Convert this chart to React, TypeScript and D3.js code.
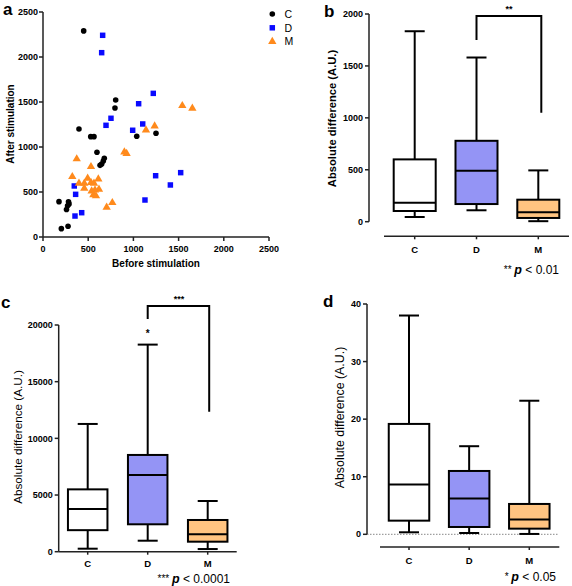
import React from 'react';
import * as d3 from 'd3';

const FONT = '"Liberation Sans", Arial, Helvetica, sans-serif';

// ---------- Panel a: scatter ----------
const groupNames = ['C', 'D', 'M'];
const groupColors = ['#000000', '#0a0aff', '#ff8a1c'];
const cPoints: [number, number][] = [
  [450, 2290], [804, 1522], [796, 1433], [398, 1200], [528, 1115], [564, 1115], [1037, 1119],
  [1250, 1152], [597, 941], [678, 874], [667, 844], [649, 811], [631, 796], [177, 393],
  [282, 392], [288, 368], [272, 348], [260, 306], [203, 93], [277, 119],
];
const dPoints: [number, number][] = [
  [660, 2241], [649, 2048], [1058, 1481], [752, 1319], [697, 1241], [1103, 1256], [992, 1186],
  [1220, 1596], [1246, 681], [1523, 715], [1409, 578], [1128, 411], [346, 567], [361, 474],
  [428, 270], [354, 233],
];
const mPoints: [number, number][] = [
  [1139, 1189], [1541, 1459], [1652, 1430], [1235, 1233], [900, 944], [925, 926], [373, 867],
  [531, 781], [324, 670], [494, 652], [612, 644], [398, 596], [457, 596], [531, 604], [564, 596],
  [457, 541], [619, 530], [538, 511], [575, 522], [557, 467], [586, 456], [767, 381], [704, 330],
];
const scatterTicks = [0, 500, 1000, 1500, 2000, 2500];

// ---------- Box panels ----------
const categories = ['C', 'D', 'M'];
const boxFills = ['#ffffff', '#9494f5', '#ffc481'];

const bMin = [45, 110, 5];
const bQ1 = [103, 170, 36];
const bMed = [183, 490, 90];
const bQ3 = [600, 779, 212];
const bMax = [1834, 1581, 494];
const bTicks = [0, 500, 1000, 1500, 2000];

const cMin = [265, 970, 235];
const cQ1 = [1900, 2418, 883];
const cMed = [3770, 6770, 1535];
const cQ3 = [5500, 8535, 2798];
const cMax = [11270, 18270, 4475];
const cTicks = [0, 5000, 10000, 15000, 20000];

const dMin = [0.35, 0.23, 0.06];
const dQ1 = [2.37, 1.27, 0.98];
const dMed = [8.63, 6.2, 2.55];
const dQ3 = [19.17, 11.0, 5.27];
const dMax = [38, 15.3, 23.2];
const dTicks = [0, 10, 20, 30, 40];

const AXIS = '#222';

function Boxes({ x, y, mins, q1s, meds, q3s, maxs, w }: any) {
  return (
    <g>
      {categories.map((c, i) => {
        const cx = x(c);
        return (
          <g key={c} stroke="#000" strokeWidth={2} fill="none">
            <line x1={cx} x2={cx} y1={y(maxs[i])} y2={y(q3s[i])} />
            <line x1={cx} x2={cx} y1={y(q1s[i])} y2={y(mins[i])} />
            <line x1={cx - 10} x2={cx + 10} y1={y(maxs[i])} y2={y(maxs[i])} />
            <line x1={cx - 10} x2={cx + 10} y1={y(mins[i])} y2={y(mins[i])} />
            <rect x={cx - w / 2} y={y(q3s[i])} width={w} height={y(q1s[i]) - y(q3s[i])} fill={boxFills[i]} />
            <line x1={cx - w / 2} x2={cx + w / 2} y1={y(meds[i])} y2={y(meds[i])} />
          </g>
        );
      })}
    </g>
  );
}

function YAxis({ x0, y, ticks, fmt }: any) {
  const [d0, d1] = y.domain();
  return (
    <g>
      <line x1={x0} x2={x0} y1={y(d0)} y2={y(d1)} stroke={AXIS} strokeWidth={1.5} />
      {ticks.map((t: number) => (
        <g key={t}>
          <line x1={x0 - 4} x2={x0} y1={y(t)} y2={y(t)} stroke={AXIS} strokeWidth={1.5} />
          <text x={x0 - 6} y={y(t)} dy="0.35em" textAnchor="end" fontSize={9} fontWeight="bold" fontFamily={FONT}>
            {fmt ? fmt(t) : t}
          </text>
        </g>
      ))}
    </g>
  );
}

function XCatAxis({ x, yLine, x1, x2, labelY }: any) {
  return (
    <g>
      <line x1={x1} x2={x2} y1={yLine} y2={yLine} stroke={AXIS} strokeWidth={1.5} />
      {categories.map((c) => (
        <g key={c}>
          <line x1={x(c)} x2={x(c)} y1={yLine} y2={yLine + 3} stroke={AXIS} strokeWidth={1.5} />
          <text x={x(c)} y={labelY} textAnchor="middle" fontSize={9.5} fontWeight="bold" fontFamily={FONT}>
            {c}
          </text>
        </g>
      ))}
    </g>
  );
}

function PText({ x, y, stars, p }: any) {
  return (
    <text x={x} y={y} textAnchor="end" fontFamily={FONT} fontSize={12}>
      <tspan fontSize={10} dy={-1}>{stars} </tspan>
      <tspan fontWeight="bold" fontStyle="italic" fontSize={12.5} dy={1}>p</tspan>
      <tspan> {'< ' + p}</tspan>
    </text>
  );
}

export default function App() {
  // Panel a scales
  const ax = d3.scaleLinear().domain([0, 2500]).range([43, 269]);
  const ay = d3.scaleLinear().domain([0, 2500]).range([237, 12]);
  const sq = d3.symbol().type(d3.symbolSquare).size(30)() as string;
  const tri = d3.symbol().type(d3.symbolTriangle).size(30)() as string;
  const groups = [cPoints, dPoints, mPoints];
  const marker = (gi: number, key: string, tx: number, ty: number) => {
    if (gi === 0) return <circle key={key} cx={tx} cy={ty} r={2.8} fill={groupColors[0]} />;
    if (gi === 1) return <path key={key} d={sq} transform={`translate(${tx},${ty})`} fill={groupColors[1]} />;
    return <path key={key} d={tri} transform={`translate(${tx},${ty})`} fill={groupColors[2]} />;
  };

  // Panel b
  const bx = d3.scalePoint().domain(categories).range([414.7, 538.3]);
  const by = d3.scaleLinear().domain([0, 2000]).range([221.7, 14]);
  // Panel c
  const cx = d3.scalePoint().domain(categories).range([87.7, 207.7]);
  const cy = d3.scaleLinear().domain([0, 20000]).range([551.7, 325]);
  // Panel d
  const dx = d3.scalePoint().domain(categories).range([409, 529.3]);
  const dy = d3.scaleLinear().domain([0, 40]).range([534.3, 304]);

  return (
    <svg width={572} height={586} style={{ position: 'absolute', left: 0, top: 0, background: '#fff' }} fontFamily={FONT}>
      <rect width={572} height={586} fill="#fff" />

      {/* ---------- Panel a ---------- */}
      <text x={3} y={15} fontSize={17} fontWeight="bold">a</text>
      <line x1={ax(0)} x2={ax(0)} y1={ay(0)} y2={ay(2500)} stroke={AXIS} strokeWidth={1.5} />
      <line x1={ax(0)} x2={ax(2500)} y1={ay(0)} y2={ay(0)} stroke={AXIS} strokeWidth={1.5} />
      {scatterTicks.map((t) => (
        <g key={'ay' + t}>
          <line x1={ax(0) - 4} x2={ax(0)} y1={ay(t)} y2={ay(t)} stroke={AXIS} strokeWidth={1.5} />
          <text x={ax(0) - 5} y={ay(t)} dy="0.35em" textAnchor="end" fontSize={9} fontWeight="bold">{t}</text>
          <line x1={ax(t)} x2={ax(t)} y1={ay(0)} y2={ay(0) + 4} stroke={AXIS} strokeWidth={1.5} />
          <text x={ax(t)} y={ay(0) + 15} textAnchor="middle" fontSize={9} fontWeight="bold">{t}</text>
        </g>
      ))}
      <text x={156} y={266.5} textAnchor="middle" fontSize={10} fontWeight="bold">Before stimulation</text>
      <text transform="translate(13.5,124) rotate(-90)" textAnchor="middle" fontSize={10} fontWeight="bold">After stimulation</text>
      {groups.map((pts, gi) => pts.map((p, i) => marker(gi, `m${gi}-${i}`, ax(p[0]), ay(p[1]))))}
      {groupNames.map((g, gi) => (
        <g key={'leg' + g}>
          {marker(gi, 'legm' + g, 272.3, 14 + gi * 13.8)}
          <text x={284.5} y={14 + gi * 13.8} dy="0.36em" fontSize={10.5}>{g}</text>
        </g>
      ))}

      {/* ---------- Panel b ---------- */}
      <text x={324} y={17} fontSize={17} fontWeight="bold">b</text>
      <YAxis x0={369} y={by} ticks={bTicks} />
      <XCatAxis x={bx} yLine={236.3} x1={384} x2={569} labelY={252.5} />
      <Boxes x={bx} y={by} mins={bMin} q1s={bQ1} meds={bMed} q3s={bQ3} maxs={bMax} w={42} />
      <text transform="translate(336,118.5) rotate(-90)" textAnchor="middle" fontSize={11.2} fontWeight="bold">Absolute difference (A.U.)</text>
      <path
        d={`M${bx('D')},${by(1750)} V${by(1980)} H${(bx('M') as number) + 3} V${by(1050)}`}
        fill="none" stroke="#000" strokeWidth={2}
      />
      <text x={509} y={12} textAnchor="middle" fontSize={9} fontWeight="bold">**</text>
      <PText x={559} y={274} stars="**" p="0.01" />

      {/* ---------- Panel c ---------- */}
      <text x={1} y={308} fontSize={17} fontWeight="bold">c</text>
      <YAxis x0={58.7} y={cy} ticks={cTicks} />
      <XCatAxis x={cx} yLine={551.7} x1={58.7} x2={236.7} labelY={566.5} />
      <Boxes x={cx} y={cy} mins={cMin} q1s={cQ1} meds={cMed} q3s={cQ3} maxs={cMax} w={39.5} />
      <text transform="translate(22,437) rotate(-90)" textAnchor="middle" fontSize={11.7}>Absolute difference (A.U.)</text>
      <path
        d={`M${cx('D')},${cy(20530)} V${cy(21680)} H${(cx('M') as number) + 1.5} V${cy(12350)}`}
        fill="none" stroke="#000" strokeWidth={2}
      />
      <text x={179} y={302} textAnchor="middle" fontSize={9} fontWeight="bold">***</text>
      <text x={cx('D')} y={337} textAnchor="middle" fontSize={10} fontWeight="bold">*</text>
      <PText x={230} y={583} stars="***" p="0.0001" />

      {/* ---------- Panel d ---------- */}
      <text x={323} y={307} fontSize={17} fontWeight="bold">d</text>
      <line x1={367} x2={558} y1={dy(0)} y2={dy(0)} stroke="#888" strokeWidth={1} strokeDasharray="1.5,1.5" />
      <YAxis x0={367} y={dy} ticks={dTicks} />
      <XCatAxis x={dx} yLine={547} x1={380} x2={559.3} labelY={563.5} />
      <Boxes x={dx} y={dy} mins={dMin} q1s={dQ1} meds={dMed} q3s={dQ3} maxs={dMax} w={40.5} />
      <text transform="translate(344,417.5) rotate(-90)" textAnchor="middle" fontSize={12.4}>Absolute difference (A.U.)</text>
      <PText x={556} y={581} stars="*" p="0.05" />
    </svg>
  );
}
